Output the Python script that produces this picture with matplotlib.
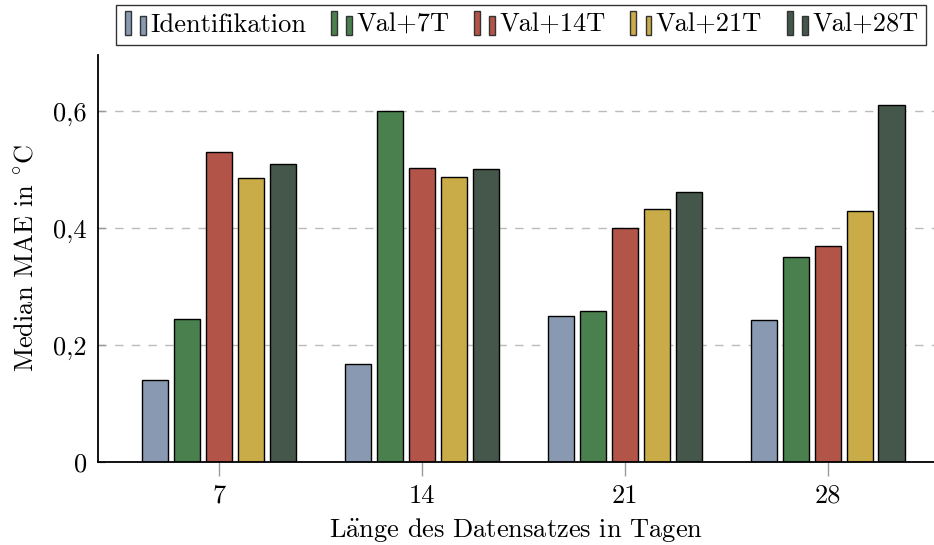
import matplotlib
matplotlib.use("Agg")
import matplotlib.pyplot as plt
from matplotlib.patches import Rectangle
from matplotlib.legend_handler import HandlerBase
import numpy as np

# Daten
tage = [7, 14, 21, 28]
serien = ["Identifikation", "Val+7T", "Val+14T", "Val+21T", "Val+28T"]
identifikation = [0.141, 0.167, 0.249, 0.243]
val_7t = [0.245, 0.600, 0.258, 0.350]
val_14t = [0.530, 0.503, 0.401, 0.369]
val_21t = [0.485, 0.487, 0.432, 0.429]
val_28t = [0.509, 0.501, 0.461, 0.610]
werte = [identifikation, val_7t, val_14t, val_21t, val_28t]
farben = ["#8899b1", "#4a7f4e", "#b25448", "#c9ac48", "#45574a"]
ytick_werte = [0, 0.2, 0.4, 0.6]
ytick_text = ["0", "0,2", "0,4", "0,6"]

plt.rcParams["font.family"] = ["cmr10", "DejaVu Serif"]
plt.rcParams["mathtext.fontset"] = "cm"
plt.rcParams["font.size"] = 19


class ZweiBalken(HandlerBase):
    # pgfplots-artiges Legendensymbol: zwei kleine Balken (Einheiten: pt)
    def create_artists(self, legend, orig_handle, xdescent, ydescent,
                       width, height, fontsize, trans):
        fc = orig_handle.get_facecolor()
        r1 = Rectangle((-xdescent + 0.5, -ydescent - 2.2), 4.3, 17.3,
                       facecolor=fc, edgecolor="#333333", lw=1, transform=trans)
        r2 = Rectangle((-xdescent + 11.5, -ydescent - 2.2), 4.3, 13.7,
                       facecolor=fc, edgecolor="#333333", lw=1, transform=trans)
        return [r1, r2]


fig = plt.figure(figsize=(9.34, 5.45), dpi=100)
ax = fig.add_axes([98 / 934, 83 / 545, 836 / 934, 407 / 545])

x = np.array(tage, dtype=float)
pitch = 1.103
breite = 0.92
handles = []
for i, (name, w, c) in enumerate(zip(serien, werte, farben)):
    b = ax.bar(x + (i - 2) * pitch, w, breite, color=c, edgecolor="black",
               linewidth=1.0, label=name, zorder=3)
    handles.append(b[0])

ax.set_xlim(2.83, 31.66)
ax.set_ylim(0, 0.696)
ax.set_xticks(tage)
ax.set_xticklabels([str(t) for t in tage])
ax.set_yticks(ytick_werte)
ax.set_yticklabels(ytick_text)

for y in ytick_werte[1:]:
    ax.axhline(y, color="#bbbbbb", lw=1, ls=(0, (6, 6)), zorder=1)

for s in ["top", "right"]:
    ax.spines[s].set_visible(False)
for s in ["left", "bottom"]:
    ax.spines[s].set_linewidth(1.3)
    ax.spines[s].set_zorder(4)

ax.tick_params(axis="x", direction="out", length=10, width=1, color="#999999", pad=6)
ax.tick_params(axis="y", direction="in", length=5, width=1, color="#999999", pad=8)

ax.set_xlabel(r"L$\mathrm{\ddot{a}}$nge des Datensatzes in Tagen", labelpad=6)
ax.set_ylabel(r"Median MAE in $^{\circ}$C", labelpad=11)

leg = fig.legend(handles, serien, loc="center", bbox_to_anchor=(0.558, 0.954),
                 ncol=5, frameon=True, fancybox=False, edgecolor="black",
                 handler_map={h: ZweiBalken() for h in handles},
                 handlelength=0.85, handletextpad=0.15, columnspacing=0.9,
                 borderpad=0.3, borderaxespad=0, fontsize=19)
leg.get_frame().set_linewidth(1.0)

fig.savefig("out.png", dpi=100)
